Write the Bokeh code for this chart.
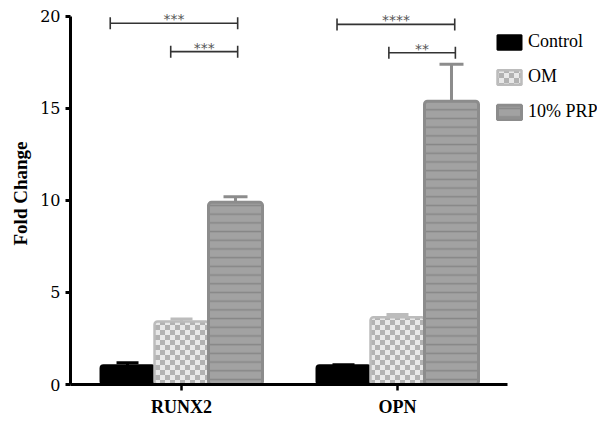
import zlib, struct, base64
from bokeh.plotting import figure
from bokeh.models import (ColumnDataSource, Range1d, FixedTicker, Whisker, TeeHead,
                          ImageURLTexture, Legend, LegendItem)
from bokeh.core.properties import value
from bokeh.embed import file_html
from bokeh.resources import INLINE

# ---------------- data ----------------
genes = ["RUNX2", "OPN"]
series = ["Control", "OM", "10% PRP"]
control_mean = [1.05, 1.05]
control_err = [0.13, 0.03]
om_mean = [3.42, 3.65]
om_err = [0.14, 0.16]
prp_mean = [9.9, 15.4]
prp_err = [0.3, 2.0]

# significance brackets (x in group units, y in fold change)
br_x0 = [-0.33, -0.05, 0.72, 0.96]
br_x1 = [0.26, 0.26, 1.265, 1.268]
br_y = [19.63, 18.09, 19.57, 18.03]
br_stars = ["***", "***", "****", "**"]

y_ticks = [0, 5, 10, 15, 20]

# ---------------- styling helpers ----------------
def make_png(w, h, rows):
    raw = b"".join(b"\x00" + bytes(r) for r in rows)
    def chunk(t, d):
        return struct.pack(">I", len(d)) + t + d + struct.pack(">I", zlib.crc32(t + d) & 0xffffffff)
    return (b"\x89PNG\r\n\x1a\n" + chunk(b"IHDR", struct.pack(">IIBBBBB", w, h, 8, 2, 0, 0, 0))
            + chunk(b"IDAT", zlib.compress(raw)) + chunk(b"IEND", b""))

cell = 5
dark = (0xb2, 0xb2, 0xb2)
light = (0xe8, 0xe8, 0xe8)
rows = []
for yy in range(2 * cell):
    r = []
    for xx in range(2 * cell):
        c = dark if ((xx // cell) + (yy // cell)) % 2 == 0 else light
        r.extend(c)
    rows.append(r)
checker_url = "data:image/png;base64," + base64.b64encode(make_png(2 * cell, 2 * cell, rows)).decode()
checker = ImageURLTexture(url=checker_url, repetition="repeat")

# ---------------- figure ----------------
W, H = 597, 419
p = figure(width=W, height=H, output_backend="svg", toolbar_location=None,
           x_range=Range1d(-0.514, 1.926), y_range=Range1d(0, 20.76),
           min_border_left=70, min_border_right=0, min_border_top=2, min_border_bottom=34)
p.outline_line_color = None
p.grid.visible = False
p.background_fill_color = "white"
p.border_fill_color = "white"

offsets = [-0.25, 0.0, 0.25]
bw = 0.25

def xs(off):
    return [i + off for i in range(len(genes))]

src_c = ColumnDataSource(dict(x=xs(offsets[0]), top=control_mean,
                              up=[m + e for m, e in zip(control_mean, control_err)]))
src_o = ColumnDataSource(dict(x=xs(offsets[1]), top=om_mean,
                              up=[m + e for m, e in zip(om_mean, om_err)]))
src_p = ColumnDataSource(dict(x=xs(offsets[2]), top=prp_mean,
                              up=[m + e for m, e in zip(prp_mean, prp_err)]))

for src, col, lw, head in [(src_c, "black", 3, 22), (src_o, "#bcbcbc", 3, 22), (src_p, "#8c8c8c", 3, 24)]:
    w = Whisker(base="x", lower="top", upper="up", source=src, level="underlay",
                line_color=col, line_width=lw,
                upper_head=TeeHead(size=head, line_color=col, line_width=lw),
                lower_head=None)
    p.add_layout(w)

r1 = p.vbar(x="x", top="top", width=bw, bottom=0, source=src_c, fill_color="black",
            line_color="black", line_width=2, border_radius=3)
r2 = p.vbar(x="x", top="top", width=bw, bottom=0, source=src_o, fill_color="#e4e4e4",
            line_color="#bcbcbc", line_width=2.5, border_radius=3,
            hatch_extra={"checker": checker}, hatch_pattern=value("checker"))
r3 = p.vbar(x="x", top="top", width=bw, bottom=0, source=src_p, fill_color="#a2a2a2",
            line_color="#8c8c8c", line_width=3, border_radius=3,
            hatch_pattern="horizontal_line", hatch_color="#878787", hatch_scale=8.7,
            hatch_weight=1.6)

# significance brackets
src_b = ColumnDataSource(dict(x0=br_x0, x1=br_x1, y=br_y,
                              xm=[(a + b) / 2 for a, b in zip(br_x0, br_x1)], s=br_stars))
p.add_layout(Whisker(dimension="width", base="y", lower="x0", upper="x1", source=src_b,
                     line_color="#333333", line_width=1.6,
                     upper_head=TeeHead(size=12, line_color="#333333", line_width=1.6),
                     lower_head=TeeHead(size=12, line_color="#333333", line_width=1.6)))
p.text(x="xm", y="y", text="s", source=src_b, text_align="center",
       text_baseline="alphabetic", y_offset=-4, text_font=value("DejaVu Sans"),
       text_font_size="14px", text_color="#555555")

# axes
ya = p.yaxis[0]
ya.ticker = FixedTicker(ticks=y_ticks)
ya.bounds = (0, 20)
ya.minor_tick_line_color = None
ya.major_tick_in = 0
ya.major_tick_out = 5
ya.major_tick_line_width = 3
ya.axis_line_width = 3
ya.major_label_text_font = "DejaVu Serif"
ya.major_label_text_font_size = "16px"
ya.major_label_text_color = "black"
ya.major_label_standoff = 5
ya.axis_label = "Fold Change"
ya.axis_label_text_font = "Liberation Serif"
ya.axis_label_text_font_style = "bold"
ya.axis_label_text_font_size = "19px"
ya.axis_label_text_color = "black"
ya.axis_label_standoff = 6

xa = p.xaxis[0]
xa.ticker = FixedTicker(ticks=[0, 1])
xa.bounds = (-0.514, 1.509)
xa.major_label_overrides = {0: genes[0], 1: genes[1]}
xa.minor_tick_line_color = None
xa.major_tick_in = 0
xa.major_tick_out = 6
xa.major_tick_line_width = 2.5
xa.axis_line_width = 3
xa.major_label_text_font = "Liberation Serif"
xa.major_label_text_font_style = "bold"
xa.major_label_text_font_size = "18px"
xa.major_label_text_color = "black"
xa.major_label_standoff = 6

# legend
lg = Legend(items=[LegendItem(label=series[0], renderers=[r1]),
                   LegendItem(label=series[1], renderers=[r2]),
                   LegendItem(label=series[2], renderers=[r3])],
            location=(424, 262))
lg.border_line_color = None
lg.background_fill_alpha = 0
lg.padding = 0
lg.margin = 0
lg.spacing = 14
lg.glyph_width = 30
lg.glyph_height = 18
lg.label_height = 18
lg.label_standoff = 4
lg.label_text_font = "Liberation Serif"
lg.label_text_font_size = "18px"
lg.label_text_color = "black"
p.add_layout(lg, "center")

open("out.html", "w").write(file_html(p, INLINE))
